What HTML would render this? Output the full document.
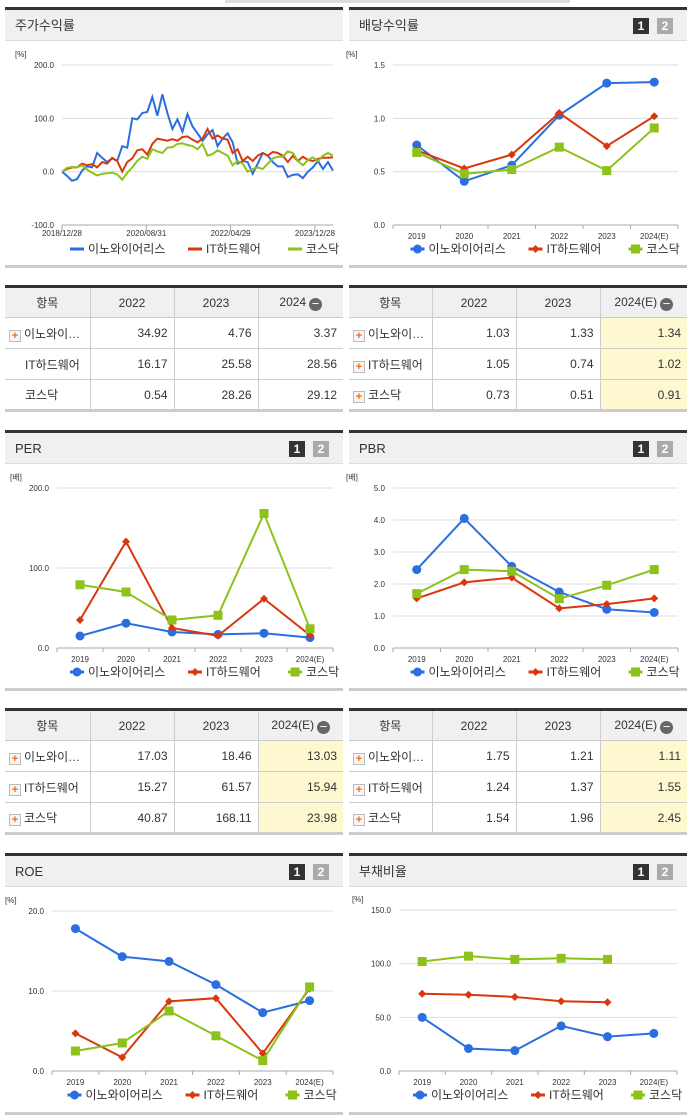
<!DOCTYPE html>
<html><head><meta charset="utf-8">
<style>
*{box-sizing:border-box;margin:0;padding:0}
body{width:691px;height:1115px;background:#fff;position:relative;overflow:hidden;font-family:"Liberation Sans","Noto Sans CJK KR",sans-serif;color:#333}
.panel{position:absolute;width:338px;border-top:3px solid #333;border-bottom:3px solid #ccc}
.hdr{height:31px;background:#f0f0f0;border-bottom:1px solid #ddd;font-size:13px;line-height:31px;padding-left:10px;position:relative}
.pg{position:absolute;top:8px;width:16px;height:16px;font-size:12px;font-weight:bold;color:#fff;text-align:center;line-height:16px}
.p1{right:38px;background:#333}.p2{right:14px;background:#aaa}
table{position:absolute;width:338px;table-layout:fixed;border-collapse:collapse;border-top:3px solid #333;border-bottom:3px solid #ccc;font-size:12px}
td,th{border:1px solid #ccc;height:31px;font-weight:normal;white-space:nowrap;overflow:hidden}
th{background:#f0f0f0;text-align:center}
td{text-align:right;padding-right:6px}
td:first-child{text-align:left;padding-left:4px;border-left:none}
th:first-child{border-left:none}
th:last-child,td:last-child{border-right:none}
.y{background:#fdf8d0}
.pl{display:inline-block;width:12px;height:12px;border:1px solid #bbb;background:#f6f6f6;color:#f60;font-size:11px;line-height:10px;text-align:center;font-weight:bold;margin-right:3px;vertical-align:-1px}
.mn{display:inline-block;width:13px;height:13px;border-radius:50%;background:#666;color:#fff;line-height:12px;font-size:13px;vertical-align:-2px;margin-left:3px}
svg{position:absolute;left:0;top:0}
</style></head><body>
<div style="position:absolute;left:225px;top:0;width:345px;height:3px;background:#ddd"></div>

<div class="panel" style="left:5px;top:7px;height:261px"><div class="hdr">주가수익률</div></div>
<div class="panel" style="left:349px;top:7px;height:261px"><div class="hdr">배당수익률<span class="pg p1">1</span><span class="pg p2">2</span></div></div>
<div class="panel" style="left:5px;top:430px;height:261px"><div class="hdr">PER<span class="pg p1">1</span><span class="pg p2">2</span></div></div>
<div class="panel" style="left:349px;top:430px;height:261px"><div class="hdr">PBR<span class="pg p1">1</span><span class="pg p2">2</span></div></div>
<div class="panel" style="left:5px;top:853px;height:262px"><div class="hdr">ROE<span class="pg p1">1</span><span class="pg p2">2</span></div></div>
<div class="panel" style="left:349px;top:853px;height:262px"><div class="hdr">부채비율<span class="pg p1">1</span><span class="pg p2">2</span></div></div>

<table style="left:5px;top:285px">
<colgroup><col style="width:85px"><col style="width:84px"><col style="width:84px"><col style="width:85px"></colgroup>
<tr><th>항목</th><th>2022</th><th>2023</th><th>2024<span class="mn">−</span></th></tr>
<tr><td><span class="pl">+</span>이노와이…</td><td>34.92</td><td>4.76</td><td>3.37</td></tr>
<tr><td style="padding-left:20px">IT하드웨어</td><td>16.17</td><td>25.58</td><td>28.56</td></tr>
<tr><td style="padding-left:20px">코스닥</td><td>0.54</td><td>28.26</td><td>29.12</td></tr></table>
<table style="left:349px;top:285px">
<colgroup><col style="width:83px"><col style="width:84px"><col style="width:84px"><col style="width:87px"></colgroup>
<tr><th>항목</th><th>2022</th><th>2023</th><th>2024(E)<span class="mn">−</span></th></tr>
<tr><td><span class="pl">+</span>이노와이…</td><td>1.03</td><td>1.33</td><td class="y">1.34</td></tr>
<tr><td><span class="pl">+</span>IT하드웨어</td><td>1.05</td><td>0.74</td><td class="y">1.02</td></tr>
<tr><td><span class="pl">+</span>코스닥</td><td>0.73</td><td>0.51</td><td class="y">0.91</td></tr></table>
<table style="left:5px;top:708px">
<colgroup><col style="width:85px"><col style="width:84px"><col style="width:84px"><col style="width:85px"></colgroup>
<tr><th>항목</th><th>2022</th><th>2023</th><th>2024(E)<span class="mn">−</span></th></tr>
<tr><td><span class="pl">+</span>이노와이…</td><td>17.03</td><td>18.46</td><td class="y">13.03</td></tr>
<tr><td><span class="pl">+</span>IT하드웨어</td><td>15.27</td><td>61.57</td><td class="y">15.94</td></tr>
<tr><td><span class="pl">+</span>코스닥</td><td>40.87</td><td>168.11</td><td class="y">23.98</td></tr></table>
<table style="left:349px;top:708px">
<colgroup><col style="width:83px"><col style="width:84px"><col style="width:84px"><col style="width:87px"></colgroup>
<tr><th>항목</th><th>2022</th><th>2023</th><th>2024(E)<span class="mn">−</span></th></tr>
<tr><td><span class="pl">+</span>이노와이…</td><td>1.75</td><td>1.21</td><td class="y">1.11</td></tr>
<tr><td><span class="pl">+</span>IT하드웨어</td><td>1.24</td><td>1.37</td><td class="y">1.55</td></tr>
<tr><td><span class="pl">+</span>코스닥</td><td>1.54</td><td>1.96</td><td class="y">2.45</td></tr></table>

<svg id="charts" width="691" height="1115"></svg>

<script>
const years = ["2019","2020","2021","2022","2023","2024(E)"];
const seriesNames = ["이노와이어리스","IT하드웨어","코스닥"];
const stockInno = [0,-8,-17,-14,2,10,8,35,26,18,25,20,48,45,100,98,110,112,140,105,145,110,80,98,75,108,85,72,58,70,78,48,62,72,55,15,20,18,-4,15,35,30,18,10,10,-10,-6,-5,-12,0,8,20,5,18,2];
const stockIT = [0,5,8,8,15,12,14,8,18,15,26,20,0,18,25,40,42,32,52,62,60,58,61,58,65,66,60,55,62,80,62,68,62,60,35,42,20,28,20,30,35,30,37,35,30,18,30,20,28,22,20,24,26,26,27];
const stockKosdaq = [0,7,9,8,12,4,-2,-7,-4,-3,-2,-5,-15,-2,8,20,28,24,42,38,35,45,46,52,53,50,48,42,52,30,33,40,35,30,12,20,15,0,5,8,5,15,25,28,28,38,35,20,12,22,27,20,30,35,30];
const stockDateTicks = ["2018/12/28","2020/08/31","2022/04/29","2023/12/28"];
const stockYTicks = [200,100,0,-100];
const divInno = [0.75,0.41,0.56,1.03,1.33,1.34];
const divIT = [0.70,0.53,0.66,1.05,0.74,1.02];
const divKosdaq = [0.68,0.48,0.52,0.73,0.51,0.91];
const divYTicks = [1.5,1.0,0.5,0.0];
const perInno = [15,31,20,17.03,18.46,13.03];
const perIT = [35,133,25,15.27,61.57,15.94];
const perKosdaq = [79,70,35,40.87,168.11,23.98];
const perYTicks = [200,100,0];
const pbrInno = [2.45,4.05,2.55,1.75,1.21,1.11];
const pbrIT = [1.55,2.05,2.2,1.24,1.37,1.55];
const pbrKosdaq = [1.7,2.45,2.4,1.54,1.96,2.45];
const pbrYTicks = [5,4,3,2,1,0];
const roeInno = [17.8,14.3,13.7,10.8,7.3,8.8];
const roeIT = [4.7,1.7,8.7,9.1,2.2,10.3];
const roeKosdaq = [2.5,3.5,7.5,4.4,1.3,10.5];
const roeYTicks = [20,10,0];
const debtInno = [50,21,19,42,32,35];
const debtIT = [72,71,69,65,64];
const debtKosdaq = [102,107,104,105,104];
const debtYTicks = [150,100,50,0];

const NS="http://www.w3.org/2000/svg";
const svg=document.getElementById('charts');
const COLORS=["#2a6ee0","#d9380e","#8cc21a"];
function mk(tag,attrs,parent){const e=document.createElementNS(NS,tag);for(const k in attrs)e.setAttribute(k,attrs[k]);(parent||svg).appendChild(e);return e;}
function txt(x,y,s,size,anchor,parent){const t=mk('text',{x:x,y:y,'font-size':size,'text-anchor':anchor||'start',fill:'#333','font-family':'Liberation Sans, Noto Sans CJK KR, sans-serif'},parent);t.textContent=s;return t;}

function axes(g,cfg){
  const yS=v=>cfg.y0+(v-cfg.min)/(cfg.max-cfg.min)*(cfg.y1-cfg.y0);
  txt(cfg.left-47,cfg.y1-8,cfg.unit,8,'start',g);
  cfg.ticks.forEach(v=>{
    const y=yS(v);
    if(v!==cfg.min)mk('line',{x1:cfg.left,x2:cfg.right,y1:y,y2:y,stroke:'#ddd'},g);
    const t=txt(cfg.left-8,y+3,v.toFixed(1),8,'end',g);
    
    
  });
  mk('line',{x1:cfg.left,x2:cfg.right,y1:cfg.y0,y2:cfg.y0,stroke:'#aaa'},g);
  return yS;
}
function legend(g,cx,y,shape){
  const widths=[100,82,55];let x=cx-120;
  seriesNames.forEach((n,i)=>{
    const lg=mk('g',{},g);
    
    
    mk('line',{x1:x,x2:x+14,y1:y-4,y2:y-4,stroke:COLORS[i],'stroke-width':3},lg);
    if(shape){marker(lg,x+7,y-4,i);}
    txt(x+18,y,n,12,'start',lg);
    x+=widths[i]+18;
  });
}
function marker(g,x,y,i){
  if(i===0)mk('circle',{cx:x,cy:y,r:4.5,fill:COLORS[0]},g);
  else if(i===1)mk('path',{d:`M${x} ${y-4}L${x+4} ${y}L${x} ${y+4}L${x-4} ${y}Z`,fill:COLORS[1]},g);
  else mk('rect',{x:x-4.5,y:y-4.5,width:9,height:9,fill:COLORS[2]},g);
}
function catChart(name,cfg,data){
  const g=mk('g',{});
  
  
  const yS=axes(g,cfg);
  const bw=(cfg.right-cfg.left)/years.length;
  const xS=i=>cfg.left+bw*(i+0.5);
  years.forEach((yr,i)=>{
    mk('line',{x1:cfg.left+bw*i,x2:cfg.left+bw*i,y1:cfg.y0,y2:cfg.y0+4,stroke:'#aaa'},g);
    txt(xS(i),cfg.y0+14,yr,8,'middle',g);
  });
  mk('line',{x1:cfg.right,x2:cfg.right,y1:cfg.y0,y2:cfg.y0+4,stroke:'#aaa'},g);
  data.forEach((arr,s)=>{
    const pts=arr.map((v,i)=>xS(i)+','+yS(v)).join(' ');
    const l=mk('polyline',{points:pts,fill:'none',stroke:COLORS[s],'stroke-width':2},g);
    
    
    arr.forEach((v,i)=>{
      const pg=mk('g',{},g);
      
      
      marker(pg,xS(i),yS(v),s);
    });
  });
  legend(g,(cfg.left+cfg.right)/2-5,cfg.y0+28,true);
}

(function(){
  const cfg={left:62,right:333,y0:225,y1:65,min:-100,max:200,ticks:stockYTicks,unit:'[%]'};
  const g=mk('g',{});
  
  
  const yS=axes(g,cfg);
  const n=stockInno.length;
  const xS=i=>cfg.left+(cfg.right-cfg.left)*i/(n-1);
  stockDateTicks.forEach((d,i)=>{
    const x=cfg.left+i*84.3;
    mk('line',{x1:x,x2:x,y1:cfg.y0,y2:cfg.y0+5,stroke:'#aaa'},g);
    txt(x,cfg.y0+11,d,8,'middle',g);
  });
  [stockInno,stockIT,stockKosdaq].forEach((arr,s)=>{
    const l=mk('polyline',{points:arr.map((v,i)=>xS(i)+','+yS(v)).join(' '),fill:'none',stroke:COLORS[s],'stroke-width':2},g);
    
    
  });
  legend(g,190,253,false);
})();

catChart('dividend-chart',{left:393,right:678,y0:225,y1:65,min:0,max:1.5,ticks:divYTicks,unit:'[%]'},[divInno,divIT,divKosdaq]);
catChart('per-chart',{left:57,right:333,y0:648,y1:488,min:0,max:200,ticks:perYTicks,unit:'[배]'},[perInno,perIT,perKosdaq]);
catChart('pbr-chart',{left:393,right:678,y0:648,y1:488,min:0,max:5,ticks:pbrYTicks,unit:'[배]'},[pbrInno,pbrIT,pbrKosdaq]);
catChart('roe-chart',{left:52,right:333,y0:1071,y1:911,min:0,max:20,ticks:roeYTicks,unit:'[%]'},[roeInno,roeIT,roeKosdaq]);
catChart('debt-ratio-chart',{left:399,right:677,y0:1071,y1:910,min:0,max:150,ticks:debtYTicks,unit:'[%]'},[debtInno,debtIT,debtKosdaq]);
</script>
</body></html>
